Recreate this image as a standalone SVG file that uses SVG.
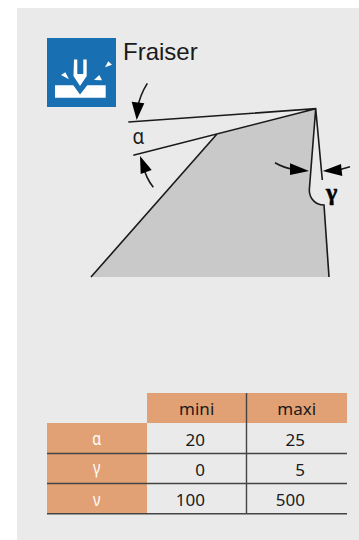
<svg xmlns="http://www.w3.org/2000/svg" width="359" height="540" viewBox="0 0 359 540">
<style>
.t{font-family:"Noto Sans","Liberation Sans",sans-serif;font-size:17px;fill:#1a1a1a;text-anchor:end}
.h{font-family:"Noto Sans","Liberation Sans",sans-serif;font-size:17px;fill:#1a1a1a;text-anchor:middle}
.w{font-family:"Noto Sans","Liberation Sans",sans-serif;font-size:18px;fill:#fff;text-anchor:middle}
.o{fill:#e1a175}
.l{stroke:#1a1a1a;stroke-width:1.6;fill:none}
.g{stroke:#444;stroke-width:1.4;fill:none}
.k{fill:#000}
</style>
<rect width="359" height="540" fill="#fff"/>
<rect x="17" y="8" width="342" height="532" fill="#eaeaea"/>
<g id="icon">
<rect x="47" y="38" width="69" height="69" fill="#1870b3"/>
<path d="M74 59.500H77.300V74H83.300V59.500H86.700V76L80 86L73.500 76Z" fill="#fff"/>
<path d="M55 85.300H73.300L80 94.500L87.300 85.300H105.700V97.700H55Z" fill="#fff"/>
<path d="M61 75L65.300 72.300L69 79.300Z M94 80L99.300 75L102 80.300Z M105 67.300L108.300 61.300L112 64.700Z" fill="#fff"/>
</g>
<text id="title" x="123" y="60" font-family="Liberation Sans,sans-serif" font-size="24" fill="#1a1a1a">Fraiser</text>
<g id="profile">
<path d="M91 277L217 134L315.700 108.700L309.300 190C309.300 199 316 205 324 205L329 277Z" fill="#c9c9c9"/>
</g>
<g id="connectors">
<path class="l" d="M91 277L217 134M133.300 155.300L315.700 108.700M128.300 122L315.700 108.700L322.300 180M315.700 108.700L309.300 190C309.300 199 316 205 324 205L329 277"/>
<path class="l" d="M147.300 83.300Q140 95 137.500 108M153.300 187.300Q146 178 144 168M275 162.700Q284 168 295 169.500M350 166.700L335 171"/>
<path class="k" d="M136.700 120L131.700 101.700L144.300 103.300Z M140 156L140.700 174L151.700 170Z M309 171L290 163.300L290 175Z M322.700 171L341 164L342.300 176Z"/>
</g>
<text id="alpha" transform="translate(138.500 144) scale(.9 1)" font-family="Noto Sans,sans-serif" font-size="21" fill="#1a1a1a" text-anchor="middle">α</text>
<text id="gamma" x="331.600" y="200" font-family="Liberation Serif,serif" font-size="24" font-weight="bold" fill="#000" stroke="#000" stroke-width=".6" text-anchor="middle">γ</text>
<g id="table">
<rect class="o" x="147" y="393" width="200" height="30"/>
<rect class="o" x="47" y="423" width="100" height="90"/>
<path class="g" d="M47 453.500H347M47 483.500H347M47 513.800H347M246.500 393V513"/>
<text class="h" x="196.700" y="415">mini</text>
<text class="h" x="296.700" y="415">maxi</text>
<text class="w" transform="translate(96.700 445) scale(.8 1)">α</text>
<text class="w" transform="translate(96.700 474) scale(.8 1)">γ</text>
<text class="w" transform="translate(96.700 505.500) scale(.8 1)">ν</text>
<text class="t" x="205" y="446">20</text>
<text class="t" x="305" y="446">25</text>
<text class="t" x="205" y="476">0</text>
<text class="t" x="305" y="476">5</text>
<text class="t" x="205" y="506">100</text>
<text class="t" x="305" y="506">500</text>
</g>
</svg>
